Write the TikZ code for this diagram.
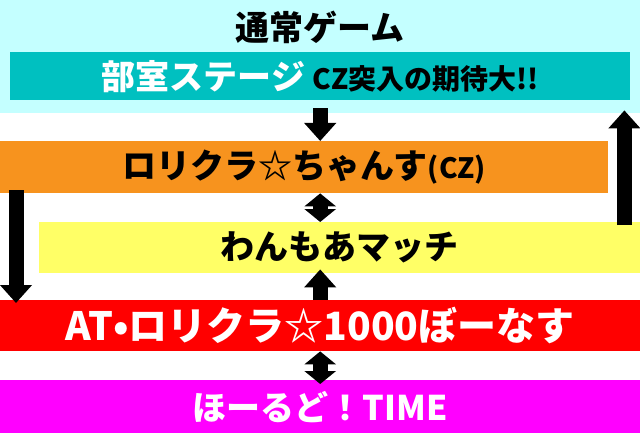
\documentclass[tikz,border=0pt]{standalone}
\usepackage{fontspec}
\setmainfont{Noto Sans CJK JP}
\usetikzlibrary{arrows.meta,positioning}
\definecolor{bandcyan}{RGB}{196,255,255}
\definecolor{stageteal}{RGB}{0,192,192}
\definecolor{chanceorange}{RGB}{247,147,30}
\definecolor{matchyellow}{RGB}{255,255,102}
\definecolor{bonusred}{RGB}{255,0,0}
\definecolor{holdmagenta}{RGB}{255,0,255}
\tikzset{
	box/.style={inner sep=0pt, anchor=north west, font=\fontsize{34}{34}\selectfont\bfseries},
	fat/.style={line width=15pt, -{Triangle[width=31pt,length=18pt]}},
	fatboth/.style={line width=15pt, {Triangle[width=31pt,length=13pt]}-{Triangle[width=31pt,length=13pt]}}
}

\begin{document}
\begin{tikzpicture}[x=1pt,y=-1pt]
	\useasboundingbox (0,0) rectangle (640,433);
	\node[box, fill=bandcyan, minimum width=640pt, minimum height=113pt] (band) at (0,0) {};
	\node[font=\fontsize{34}{34}\selectfont\bfseries] (title) at (320,27) {通常ゲーム};
	\node[box, fill=stageteal, minimum width=620pt, minimum height=48pt] (stage) at (10,52) {{\color{white}部室ステージ} {\fontsize{28}{28}\selectfont CZ突入の期待大!!}};
	\node[box, fill=chanceorange, minimum width=608pt, minimum height=52pt] (chance) at (0,141) {ロリクラ☆ちゃんす{\fontsize{28}{28}\selectfont(CZ)}};
	\node[box, fill=matchyellow, minimum width=601pt, minimum height=51pt] (match) at (39,222) {わんもあマッチ};
	\node[box, fill=bonusred, text=white, minimum width=640pt, minimum height=51pt, font=\fontsize{39}{39}\selectfont\bfseries] (bonus) at (0,300) {AT•ロリクラ☆1000ぼーなす};
	\node[box, fill=holdmagenta, text=white, minimum width=640pt, minimum height=53pt] (hold) at (0,380) {ほーるど！TIME};
	% arrows between the stages
	\draw[fat] ([yshift=5pt]band.south) -- (band.south |- chance.north);
	\draw[fatboth] (bonus.north |- chance.south) -- (bonus.north |- match.north);
	\draw[fat] (bonus.north) -- ([yshift=4pt]bonus.north |- match.south);
	\draw[fatboth] (bonus.south) -- ([yshift=-4pt]hold.north);
	\draw[fat] ([xshift=16pt,yshift=3pt]chance.south west) -- ([xshift=16pt,yshift=-3pt]bonus.north west);
	\draw[fat] ([xshift=-16pt,yshift=-3pt]match.north east) -- ([xshift=-16pt,yshift=3pt]band.south east);
\end{tikzpicture}
\end{document}
